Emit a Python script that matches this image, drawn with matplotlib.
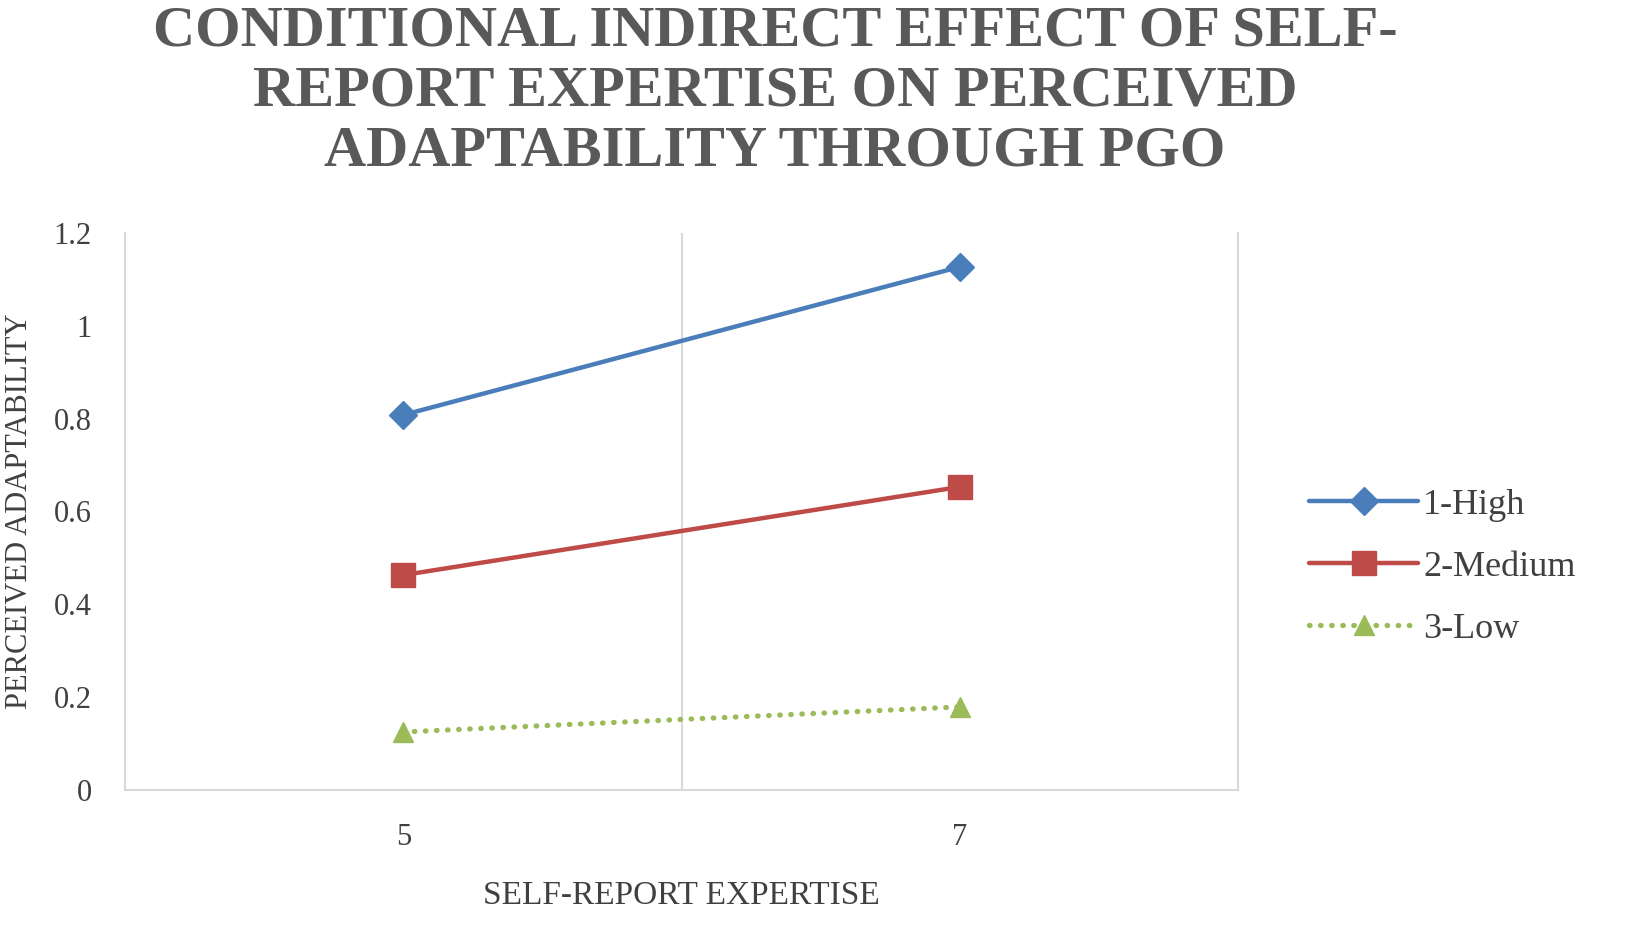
import numpy as np
import matplotlib
matplotlib.use('Agg')
import matplotlib.pyplot as plt

categories = ['5', '7']
high = [0.808, 1.127]
medium = [0.463, 0.653]
low = [0.125, 0.179]
series_names = ['1-High', '2-Medium', '3-Low']
yticks = [0, 0.2, 0.4, 0.6, 0.8, 1.0, 1.2]
ytick_labels = ['0', '0.2', '0.4', '0.6', '0.8', '1', '1.2']

plt.rcParams['font.family'] = ['Liberation Serif', 'DejaVu Serif']

fig = plt.figure(figsize=(16.5, 9.43), dpi=100)
ax = fig.add_axes([125/1650, 153/943, (1238-125)/1650, (790-233)/943])

x = np.arange(len(categories))
ax.plot(x, high, color='#4a7ebb', lw=3.2, marker='D', ms=14, label=series_names[0],
        solid_capstyle='round')
ax.plot(x, medium, color='#be4b48', lw=3.2, marker='s', ms=17, label=series_names[1],
        solid_capstyle='round')
ax.plot(x, low, color='#9bbb59', lw=3.8, ls=(0, (0.1, 2.0)), dash_capstyle='round',
        marker='^', ms=15, label=series_names[2])

grid = '#d9d9d9'
ax.set_xlim(-0.5, 1.5)
ax.set_ylim(0, 1.2)
ax.axvline(0.5, color=grid, lw=1.5, zorder=0)
for s in ['left', 'bottom', 'right']:
    ax.spines[s].set_color(grid)
    ax.spines[s].set_linewidth(1.5)
ax.spines['top'].set_visible(False)

ax.set_xticks(x)
ax.set_xticklabels(categories)
ax.set_yticks(yticks)
ax.set_yticklabels(ytick_labels)
ax.tick_params(length=0, labelsize=22, colors='#404040')
ax.tick_params(axis='x', pad=24)
ax.tick_params(axis='y', pad=24)

ax.set_xlabel('SELF-REPORT EXPERTISE', fontsize=24, color='#404040')
ax.set_ylabel('PERCEIVED ADAPTABILITY', fontsize=22, color='#404040')
ax.xaxis.set_label_coords(0.5, -0.162)
ax.yaxis.set_label_coords(-0.082, 0.5)

leg = ax.legend(loc='center left', bbox_to_anchor=(1.035, 0.40), frameon=False,
                fontsize=26, labelcolor='#404040', handlelength=3.0,
                handletextpad=0.15, labelspacing=0.8)

title = 'CONDITIONAL INDIRECT EFFECT OF SELF-\nREPORT EXPERTISE ON PERCEIVED\nADAPTABILITY THROUGH PGO'
fig.text(775/1650, 1 - 6/943, title, ha='center', va='top', fontsize=42,
         fontweight='bold', color='#595959', linespacing=1.2)

fig.savefig('out.png', dpi=100)
